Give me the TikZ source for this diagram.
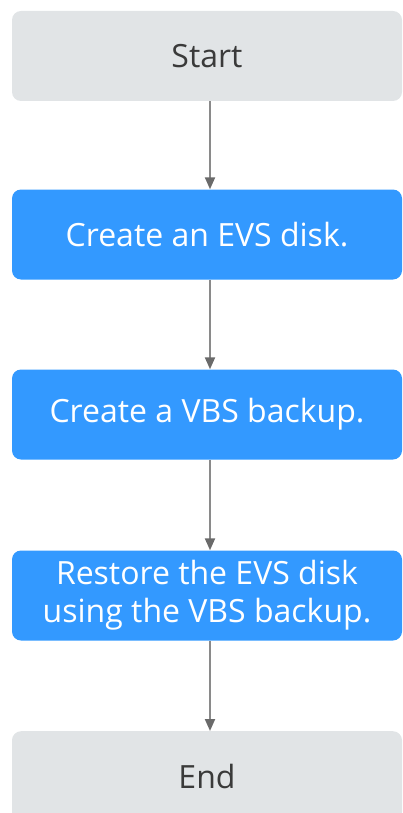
\documentclass[tikz,border=0pt]{standalone}
\usepackage{fontspec}
\setmainfont{Open Sans}
\usetikzlibrary{arrows.meta}
\definecolor{boxgray}{HTML}{E1E4E6}
\definecolor{boxblue}{HTML}{3399FF}
\definecolor{linegray}{HTML}{8A8A8A}
\definecolor{tipgray}{HTML}{6A6A6A}
\definecolor{txtgray}{HTML}{3A3A3A}
\begin{document}
\begin{tikzpicture}[x=1pt,y=-1pt,
  base/.style={rounded corners=9pt, minimum width=390pt, minimum height=90pt, inner sep=0pt, align=center, font=\fontsize{32}{38}\selectfont},
  graybox/.style={base, fill=boxgray, text=txtgray},
  bluebox/.style={base, fill=boxblue, text=white},
  conn/.style={draw=linegray, line width=2pt, -{Triangle[length=12pt,width=10pt,fill=tipgray,color=tipgray]}}
]
\useasboundingbox (0,0) rectangle (403,813);
\node[graybox] (start) at (207,56) {Start};
\node[bluebox] (s1) at (207,234.5) {Create an EVS disk.};
\node[bluebox] (s2) at (207,414.5) {Create a VBS backup.};
\node[bluebox] (s3) at (207,595.5) {Restore the EVS disk\\using the VBS backup.};
\node[graybox, anchor=north] (end) at (207,731) {End};
\draw[conn] ([xshift=3pt]start.south) -- ([xshift=3pt]s1.north);
\draw[conn] ([xshift=3pt]s1.south) -- ([xshift=3pt]s2.north);
\draw[conn] ([xshift=3pt]s2.south) -- ([xshift=3pt]s3.north);
\draw[conn] ([xshift=3pt]s3.south) -- ([xshift=3pt]end.north);
\end{tikzpicture}
\end{document}
